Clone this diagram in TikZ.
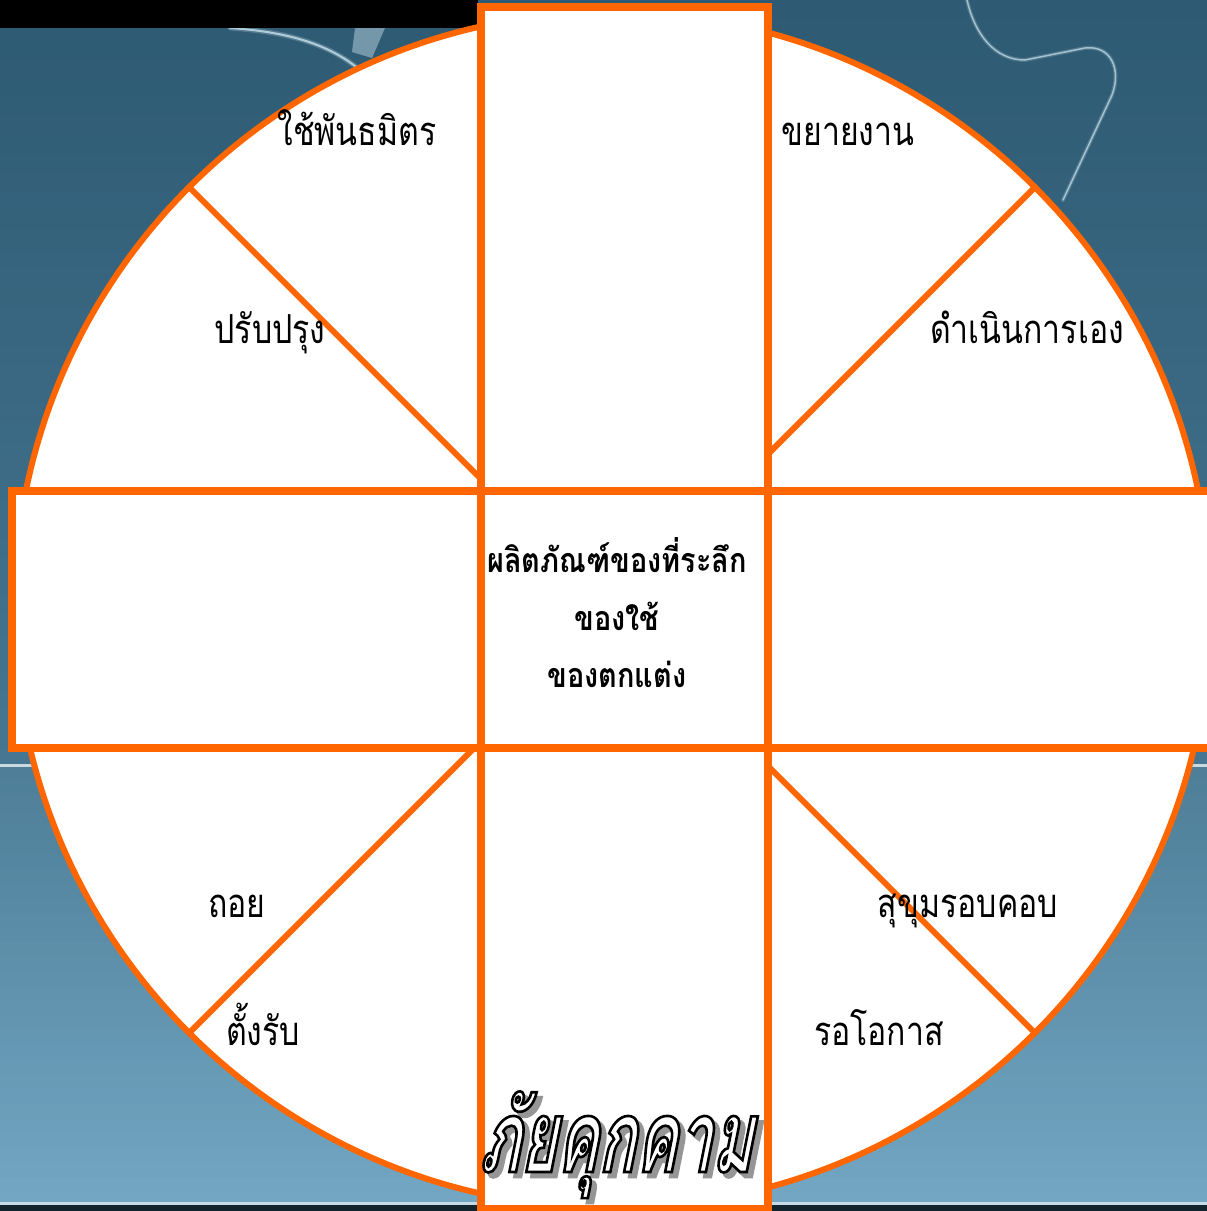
\documentclass[tikz,border=0pt]{standalone}
\usepackage{fontspec}
\newfontfamily\thai[Script=Thai,FakeStretch=0.8]{Loma}
\newfontfamily\thaic[Script=Thai,FakeStretch=0.85]{Loma}
\newfontfamily\thaititle[Script=Thai,FakeSlant=0.2,FakeStretch=0.62]{Loma}
\newcommand{\outlinetext}[2]{\special{pdf:literal direct 2 Tr 2.6 w #1 RG}#2\special{pdf:literal direct 0 Tr}}
\definecolor{ora}{RGB}{255,102,0}
\definecolor{bgA}{RGB}{46,90,115}
\definecolor{bgB}{RGB}{70,118,145}
\definecolor{bgC}{RGB}{78,126,152}
\definecolor{bgD}{RGB}{114,166,194}
\definecolor{shadowgray}{RGB}{150,150,150}
\definecolor{glow}{RGB}{200,225,235}
\begin{document}
\begin{tikzpicture}[x=1pt,y=-1pt,
  lbl/.style={font=\thai\fontsize{40}{44}\selectfont, inner sep=0pt, anchor=base, text=black},
  ctr/.style={font=\thaic\bfseries\fontsize{34}{57}\selectfont, inner sep=0pt, anchor=base, text=black},
  ttl/.style={font=\thaititle\bfseries\fontsize{100}{100}\selectfont, inner sep=0pt, anchor=base},
  rimline/.style={draw=ora, line width=6pt},
  diagline/.style={draw=ora, line width=6pt},
  boxline/.style={draw=ora, line width=7.5pt},
  glowline/.style={draw=glow, line cap=round},
]
\useasboundingbox (0,0) rectangle (1207,1211);
\clip (0,0) rectangle (1207,1211);
% background
\foreach \i in {0,...,39}{
  \pgfmathsetmacro\p{100*\i/39}
  \fill[bgB!\p!bgA] (0,\i*19.2) rectangle (1207,\i*19.2+20);
}
\foreach \i in {0,...,29}{
  \pgfmathsetmacro\p{100*\i/29}
  \fill[bgD!\p!bgC] (0,766+\i*14.7) rectangle (1207,766+\i*14.7+15.5);
}
\fill[white!70!bgC] (0,764) rectangle (1207,767);
\fill[white!60!bgD] (0,1202) rectangle (1207,1205);
\fill[black!60!bgA] (0,1205) rectangle (1207,1211);
% decorative background highlights
\draw[glowline, line width=5pt, opacity=0.25] (230,28) .. controls (290,32) and (330,45) .. (360,70);
\draw[glowline, line width=2pt, opacity=0.8] (230,28) .. controls (290,32) and (330,45) .. (360,70);
\fill[glow, opacity=0.45] (355,28) -- (385,28) -- (372,58) -- (352,52) -- cycle;
\draw[glowline, line width=4pt, opacity=0.2] (967,0) .. controls (975,35) and (995,60) .. (1025,60) -- (1085,48) .. controls (1110,45) and (1122,68) .. (1112,95) -- (1063,200);
\draw[glowline, line width=1.5pt, opacity=0.7] (967,0) .. controls (975,35) and (995,60) .. (1025,60) -- (1085,48) .. controls (1110,45) and (1122,68) .. (1112,95) -- (1063,200);
\fill[black] (0,0) rectangle (478,28);
% circle
\node[rimline, fill=white, circle, minimum size=1196pt, inner sep=0pt] (ring) at (612,610) {};
\coordinate (ulend) at (481,479);
\coordinate (urend) at (768,454);
\coordinate (llend) at (481,741);
\coordinate (lrend) at (768,766);
\draw[diagline] (ring.135) -- (ulend);
\draw[diagline] (ring.45) -- (urend);
\draw[diagline] (ring.225) -- (llend);
\draw[diagline] (ring.315) -- (lrend);
% cross boxes
\fill[white] (481,7) rectangle (768,1209);
\fill[white] (12,491) rectangle (1225,748);
\draw[boxline] (481,7) rectangle (768,1209);
\draw[boxline] (12,491) rectangle (1225,748);
% labels
\node[lbl] (t1) at (357,145) {ใช้พันธมิตร};
\node[lbl] (t2) at (848,145) {ขยายงาน};
\node[lbl] (t3) at (270,343) {ปรับปรุง};
\node[lbl] (t4) at (1027,343) {ดำเนินการเอง};
\node[lbl] (t5) at (237,917) {ถอย};
\node[lbl] (t6) at (968,917) {สุขุมรอบคอบ};
\node[lbl] (t7) at (263,1045) {ตั้งรับ};
\node[lbl] (t8) at (879,1045) {รอโอกาส};
% center
\node[ctr] (c1) at (617,572) {ผลิตภัณฑ์ของที่ระลึก};
\node[ctr] (c2) at (617,630) {ของใช้};
\node[ctr] (c3) at (617,687) {ของตกแต่ง};
% title
\node[ttl, text=shadowgray] (ttlshadow) at (621,1177) {\outlinetext{0.59 0.59 0.59}{ภัยคุกคาม}};
\node[ttl, text=white] (ttlmain) at (616,1172) {\outlinetext{0 0 0}{ภัยคุกคาม}};
\end{tikzpicture}
\end{document}
